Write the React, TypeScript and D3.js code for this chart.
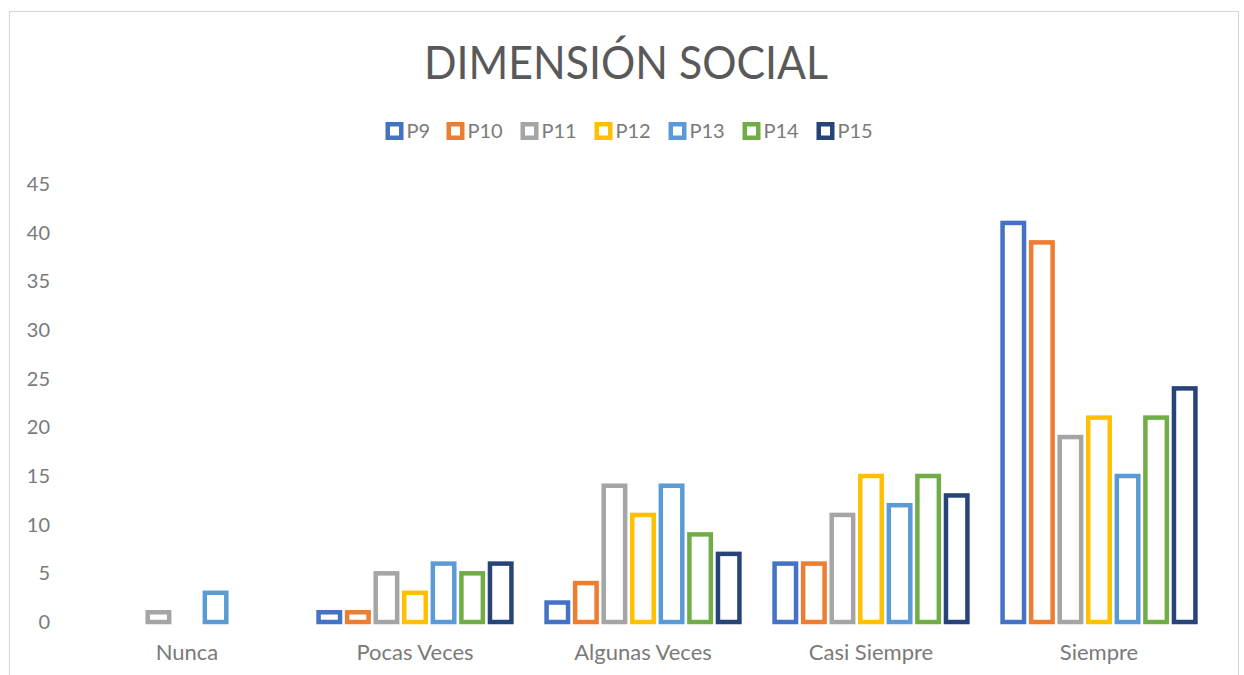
import React from "react";
import * as d3 from "d3";

const categories = ["Nunca", "Pocas Veces", "Algunas Veces", "Casi Siempre", "Siempre"];
const seriesNames = ["P9", "P10", "P11", "P12", "P13", "P14", "P15"];
const seriesColors = ["#4472C4", "#ED7D31", "#A5A5A5", "#FFC000", "#5B9BD5", "#70AD47", "#264478"];
const P9 = [0, 1, 2, 6, 41];
const P10 = [0, 1, 4, 6, 39];
const P11 = [1, 5, 14, 11, 19];
const P12 = [0, 3, 11, 15, 21];
const P13 = [3, 6, 14, 12, 15];
const P14 = [0, 5, 9, 15, 21];
const P15 = [0, 6, 7, 13, 24];
const seriesValues = [P9, P10, P11, P12, P13, P14, P15];
const yTicks = [0, 5, 10, 15, 20, 25, 30, 35, 40, 45];
const title = "DIMENSIÓN SOCIAL";

const W = 1244;
const H = 675;
const FONT = "Lato, 'Open Sans', sans-serif";
const TEXT = "#7a7a7a";

export default function App() {
  const x = d3.scaleBand<string>().domain(categories).range([73, 1213]).paddingInner(0).paddingOuter(0);
  const y = d3.scaleLinear().domain([0, 45]).range([622, 184]);
  const groupW = x.bandwidth() * 0.877;
  const inner = d3.scaleBand<string>().domain(seriesNames).range([0, groupW]).padding(0);
  const stroke = 4.5;
  const pitch = inner.bandwidth();
  const rectW = pitch - 2.6 - stroke;

  // legend layout
  const markerSize = 18;
  const textW = (s: string) => s.length * 13;
  const itemW = (s: string) => markerSize + 3 + textW(s) + 14;
  const totalLegend = seriesNames.reduce((a, s) => a + itemW(s), 0) - 14;
  let lx = W / 2 - totalLegend / 2 + 9;
  const legendItems = seriesNames.map((s, i) => {
    const item = { name: s, color: seriesColors[i], x: lx };
    lx += itemW(s);
    return item;
  });

  return (
    <svg width={W} height={H} style={{ position: "absolute", left: 0, top: 0, background: "#fff" }}>
      <rect x={9.5} y={11.5} width={1229} height={700} fill="#fff" stroke="#d9d9d9" strokeWidth={1.2} />
      <text
        x={626}
        y={79}
        textAnchor="middle"
        fontFamily={FONT}
        fontSize={47}
        fill="#595959"
        textLength={404}
        lengthAdjust="spacingAndGlyphs"
      >
        {title}
      </text>
      {legendItems.map((it) => (
        <g key={it.name}>
          <rect
            x={it.x + stroke / 2}
            y={122 + stroke / 2}
            width={markerSize - stroke}
            height={markerSize - stroke}
            fill="#fff"
            stroke={it.color}
            strokeWidth={stroke}
          />
          <text x={it.x + markerSize + 3} y={138} fontFamily={FONT} fontSize={20} fill={TEXT}>
            {it.name}
          </text>
        </g>
      ))}
      {yTicks.map((t) => (
        <text key={t} x={50} y={y(t) + 7} textAnchor="end" fontFamily={FONT} fontSize={20} fill={TEXT}>
          {t}
        </text>
      ))}
      {categories.map((c, ci) => {
        const gx = (x(c) as number) + (x.bandwidth() - groupW) / 2;
        return (
          <g key={c}>
            {seriesNames.map((s, si) => {
              const v = seriesValues[si][ci];
              if (!v) return null;
              const cx = gx + (inner(s) as number) + pitch / 2;
              return (
                <rect
                  key={s}
                  x={cx - rectW / 2}
                  y={y(v)}
                  width={rectW}
                  height={y(0) - y(v)}
                  fill="#fff"
                  stroke={seriesColors[si]}
                  strokeWidth={stroke}
                />
              );
            })}
            <text
              x={(x(c) as number) + x.bandwidth() / 2}
              y={660}
              textAnchor="middle"
              fontFamily={FONT}
              fontSize={22}
              fill={TEXT}
            >
              {c}
            </text>
          </g>
        );
      })}
    </svg>
  );
}
